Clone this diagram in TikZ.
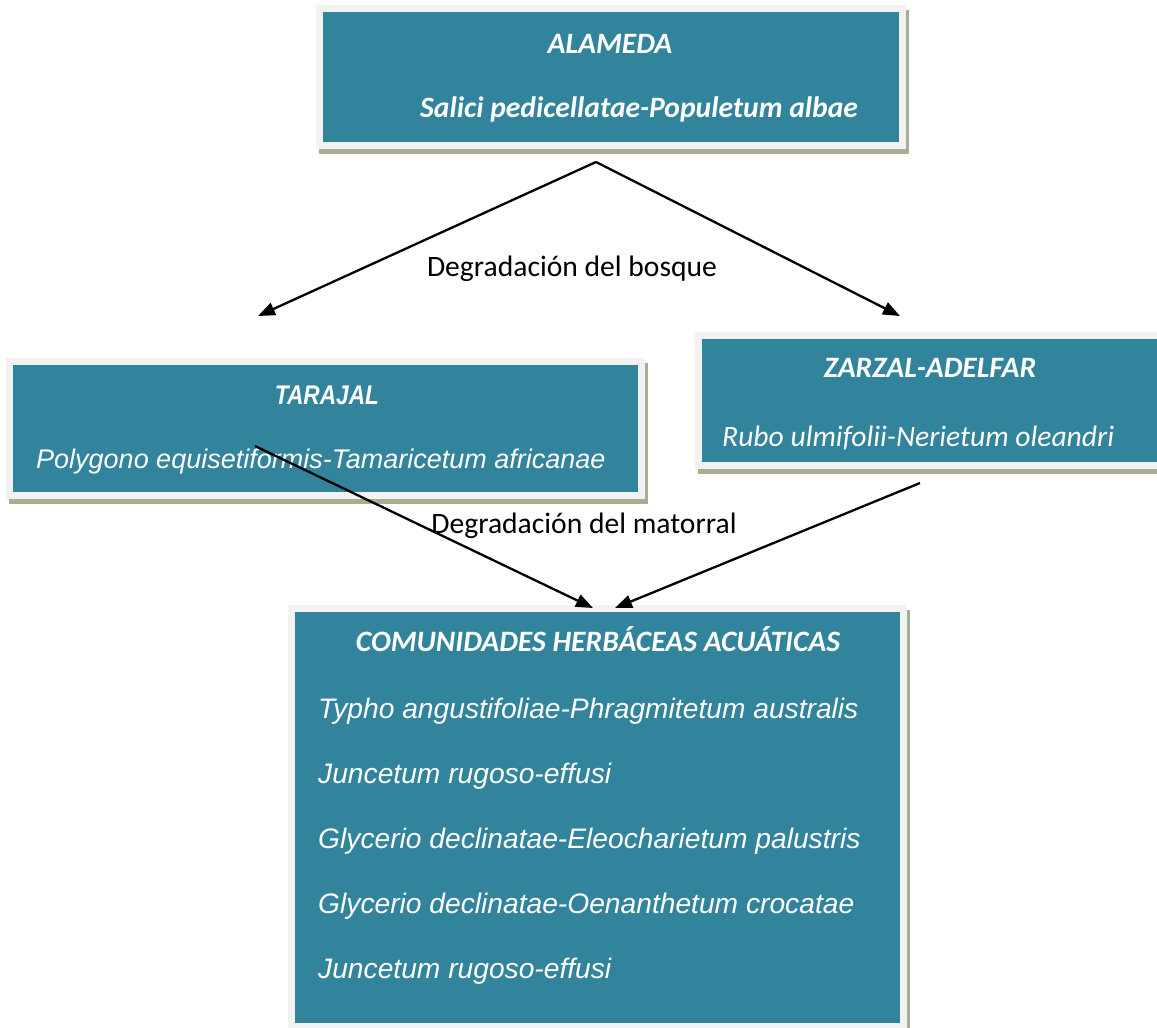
\documentclass[tikz,border=0pt]{standalone}
\usepackage{fontspec}
\setmainfont{Carlito}
\newfontfamily\arialfont{Liberation Sans}
\usetikzlibrary{shadows,arrows.meta}

\definecolor{boxteal}{RGB}{49,132,155}
\definecolor{boxframe}{RGB}{242,242,242}
\definecolor{boxshade}{RGB}{168,174,148}

\tikzset{
  vegbox/.style={
    rectangle, inner sep=0pt, fill=boxteal, draw=boxframe, line width=7pt,
    drop shadow={shadow xshift=3pt, shadow yshift=-5pt, opacity=1,
                 fill=boxshade, draw=boxshade, line width=7pt}
  },
  head/.style={text=white, font=\fontsize{29.6}{35}\selectfont\bfseries\itshape, inner sep=0pt, anchor=base},
  calname/.style={text=white, font=\fontsize{29.6}{35}\selectfont\itshape, inner sep=0pt},
  arname/.style={text=white, font=\fontsize{28.2}{34}\selectfont\arialfont\itshape, inner sep=0pt, anchor=base west},
  arhead/.style={text=white, font=\fontsize{27}{34}\selectfont\arialfont\bfseries\itshape, inner sep=0pt, anchor=base},
  steplabel/.style={text=black, font=\fontsize{29.6}{35}\selectfont, inner sep=0pt, anchor=base},
  flow/.style={line width=2.3pt, -{Triangle[length=17pt,width=13pt]}}
}

\begin{document}
\begin{tikzpicture}[x=1pt,y=-1pt]
  \clip (0,0) rectangle (1157,1028);
  \fill[white] (0,0) rectangle (1157,1028);

  % boxes
  \node[vegbox, minimum width=583pt, minimum height=137pt] (alameda) at (611,77) {};
  \node[vegbox, minimum width=632pt, minimum height=134pt] (tarajal) at (325.5,428.5) {};
  \node[vegbox, minimum width=473pt, minimum height=130pt] (zarzal) at (935,400.5) {};
  \node[vegbox, minimum width=612pt, minimum height=418pt] (comun) at (597.5,817.5) {};

  % texts of the boxes
  \node[head] (alamedaT) at (610,53) {ALAMEDA};
  \node[calname, head] (alamedaN) at (639,117) {Salici pedicellatae-Populetum albae};

  \node[arhead] (tarajalT) at (327,404) {\scalebox{0.84}[1]{TARAJAL}};
  \node[arname, font=\fontsize{27}{34}\selectfont\arialfont\itshape] (tarajalN) at (36,468) {Polygono equisetiformis-Tamaricetum africanae};

  \node[head] (zarzalT) at (930,377) {ZARZAL-ADELFAR};
  \node[calname, anchor=base west] (zarzalN) at (722,446) {Rubo ulmifolii-Nerietum oleandri};

  \node[head] (comunT) at (598,651) {COMUNIDADES HERBÁCEAS ACUÁTICAS};
  \node[arname] (c1) at (318,718) {Typho angustifoliae-Phragmitetum australis};
  \node[arname] (c2) at (318,783) {Juncetum rugoso-effusi};
  \node[arname] (c3) at (318,848) {Glycerio declinatae-Eleocharietum palustris};
  \node[arname] (c4) at (318,913) {Glycerio declinatae-Oenanthetum crocatae};
  \node[arname] (c5) at (318,978) {Juncetum rugoso-effusi};

  % connector ends
  \coordinate (splitTop) at (596,162);
  \coordinate (toTarajal) at (258,316);
  \coordinate (toZarzal) at (900,316);
  \coordinate (fromTarajal) at (255,446);
  \coordinate (fromZarzal) at (920,483);
  \coordinate (intoComunL) at (593,608);
  \coordinate (intoComunR) at (615,608);

  % connectors
  \draw[flow] (splitTop) -- (toTarajal);
  \draw[flow] (splitTop) -- (toZarzal);
  \draw[flow] (fromTarajal) -- (intoComunL);
  \draw[flow] (fromZarzal) -- (intoComunR);

  % step labels
  \node[steplabel] (bosque) at (572,276) {Degradación del bosque};
  \node[steplabel] (matorral) at (584,533) {Degradación del matorral};
\end{tikzpicture}
\end{document}
